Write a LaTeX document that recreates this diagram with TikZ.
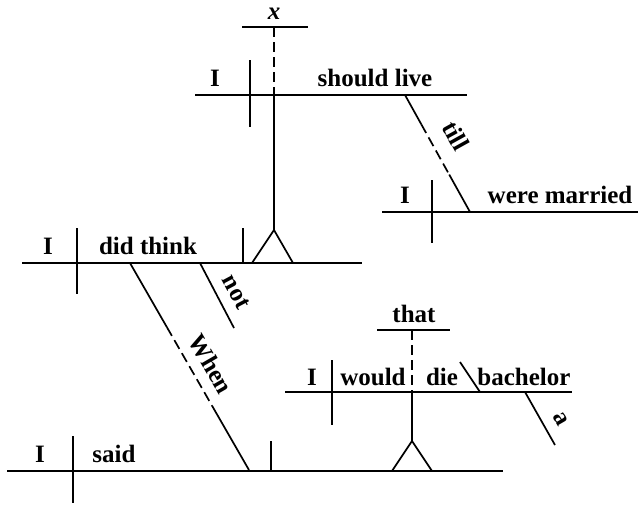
\documentclass[tikz,border=0pt]{standalone}
\usepackage{fontspec}
\setmainfont{Liberation Serif}
\usetikzlibrary{calc}
\begin{document}
\begin{tikzpicture}[
  x=1pt, y=-1pt,
  word/.style={font=\fontsize{25}{28}\selectfont\bfseries, inner sep=0pt, anchor=base},
  slant/.style={font=\fontsize{25}{28}\selectfont\bfseries, inner sep=0pt, anchor=center},
  rule/.style={line width=1.7pt},
  gap/.style={line width=1.7pt, dash pattern=on 10pt off 5pt}
]
\useasboundingbox (0,0) rectangle (638,504);

% x should live
\node[word] (x) at (274,19) {\textit{x}};
\coordinate (x1) at (242,27);
\coordinate (x2) at (308,27);
\coordinate (xs) at (274,27);
\coordinate (s1) at (195,95);
\coordinate (s2) at (467,95);
\coordinate (sx) at (274,95);
\coordinate (sd1) at (250,60);
\coordinate (sd2) at (250,127);
\node[word] (sI) at (215,86) {I};
\node[word] (sv) at (375,86) {should live};
\draw[rule] (x1) -- (x2);
\draw[gap] (xs) -- (sx);
\draw[rule] (s1) -- (s2);
\draw[rule] (sd1) -- (sd2);

% till I were married
\coordinate (t1) at (405,95);
\coordinate (t2) at (470,212);
\coordinate (ta) at ($(t1)!0.25!(t2)$);
\coordinate (tb) at ($(t1)!0.68!(t2)$);
\draw[rule] (t1) -- (ta);
\draw[gap] (ta) -- (tb);
\draw[rule] (tb) -- (t2);
\node[slant, rotate=-61] (till) at (456,136) {till};
\coordinate (m1) at (382,212);
\coordinate (m2) at (638,212);
\coordinate (md1) at (432,180);
\coordinate (md2) at (432,243);
\node[word] (mI) at (405,203) {I};
\node[word] (mv) at (560,203) {were married};
\draw[rule] (m1) -- (m2);
\draw[rule] (md1) -- (md2);

% I did think not
\coordinate (d1) at (22,263);
\coordinate (d2) at (362,263);
\coordinate (dd1) at (77,228);
\coordinate (dd2) at (77,294);
\coordinate (dt1) at (243,228);
\coordinate (dt2) at (243,263);
\node[word] (dI) at (48,254) {I};
\node[word] (dv) at (148,254) {did think};
\draw[rule] (d1) -- (d2);
\draw[rule] (dd1) -- (dd2);
\draw[rule] (dt1) -- (dt2);
\coordinate (p1) at (252,263);
\coordinate (p2) at (293,263);
\coordinate (pa) at (274,230);
\draw[rule] (p1) -- (pa) -- (p2);
\draw[rule] (pa) -- (sx);
\coordinate (n1) at (200,263);
\coordinate (n2) at (234,328);
\draw[rule] (n1) -- (n2);
\node[slant, rotate=-62] (not) at (236,292) {not};

% When
\coordinate (w1) at (130,263);
\coordinate (w2) at (249,470);
\coordinate (wa) at ($(w1)!0.31!(w2)$);
\coordinate (wb) at ($(w1)!0.69!(w2)$);
\draw[rule] (w1) -- (wa);
\draw[gap] (wa) -- (wb);
\draw[rule] (wb) -- (w2);
\node[slant, rotate=-60] (when) at (211,364) {When};

% that I would die bachelor
\node[word] (that) at (414,322) {that};
\coordinate (h1) at (377,330);
\coordinate (h2) at (450,330);
\coordinate (hs) at (412,330);
\draw[rule] (h1) -- (h2);
\coordinate (b1) at (285,392);
\coordinate (b2) at (572,392);
\coordinate (bx) at (412,392);
\coordinate (bd1) at (332,360);
\coordinate (bd2) at (332,425);
\node[word] (bI) at (312,385) {I};
\node[word] (bw) at (373,385) {would};
\node[word] (bdie) at (442,385) {die};
\node[word] (bb) at (524,385) {bachelor};
\draw[rule] (b1) -- (b2);
\draw[rule] (bd1) -- (bd2);
\draw[gap] (hs) -- (bx);
\coordinate (c1) at (460,362);
\coordinate (c2) at (480,392);
\draw[rule] (c1) -- (c2);
\coordinate (a1) at (525,392);
\coordinate (a2) at (555,445);
\draw[rule] (a1) -- (a2);
\node[slant, rotate=-60] (a) at (561,419) {a};

% I said
\coordinate (r1) at (7,471);
\coordinate (r2) at (503,471);
\coordinate (rd1) at (73,436);
\coordinate (rd2) at (73,503);
\coordinate (rt1) at (271,441);
\coordinate (rt2) at (271,471);
\node[word] (rI) at (40,462) {I};
\node[word] (rv) at (114,462) {said};
\draw[rule] (r1) -- (r2);
\draw[rule] (rd1) -- (rd2);
\draw[rule] (rt1) -- (rt2);
\coordinate (q1) at (392,471);
\coordinate (q2) at (432,471);
\coordinate (qa) at (412,441);
\draw[rule] (q1) -- (qa) -- (q2);
\draw[rule] (qa) -- (bx);

\end{tikzpicture}
\end{document}
